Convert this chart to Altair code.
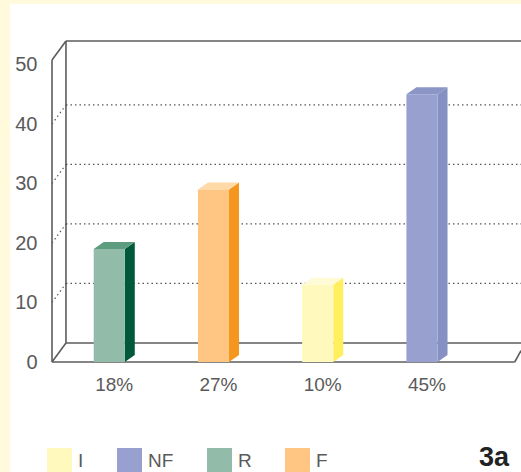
import altair as alt
import pandas as pd

# ---- data ----
categories = ["R", "F", "I", "NF"]
x_labels = ["18%", "27%", "10%", "45%"]
values = [19, 29, 13, 45]          # bar heights as drawn
front_colors = ["#93BBA9", "#FFC683", "#FFF9BE", "#97A0CE"]
side_colors = ["#00593A", "#F5961F", "#FFEF5E", "#8690C2"]
top_colors = ["#5E9C80", "#FFD9A8", "#FFFBD6", "#8B95C6"]
legend_order = ["I", "NF", "R", "F"]
y_ticks = [0, 10, 20, 30, 40, 50]
grid_values = [10, 20, 30, 40]

# ---- geometry (scale units) ----
W, H = 469, 321
PAD_L, PAD_T = 52, 41
X_MIN, X_MAX = -0.549, 3.950
Y_MAX = 53.95
HALF = 0.149
SIDE_DX, SIDE_DY = 0.096, 1.18
FRAME_DX, FRAME_DY = 0.134, 3.2
FRAME_TOP = Y_MAX - FRAME_DY

xs = alt.Scale(domain=[X_MIN, X_MAX], nice=False, zero=False)
ys = alt.Scale(domain=[0, Y_MAX], nice=False, zero=False)
yaxis = alt.Axis(values=y_ticks, domain=False, ticks=False, grid=False,
                 labelPadding=15, labelFontSize=20, labelColor="#5a5a5a",
                 labelFont="Liberation Sans", title=None, zindex=2)

color_of = dict(zip(categories, front_colors))

front = pd.DataFrame({
    "cat": categories,
    "x": [i - HALF for i in range(len(categories))],
    "x2": [i + HALF for i in range(len(categories))],
    "value": values,
})

side_rows, top_rows = [], []
for i, (c, v) in enumerate(zip(categories, values)):
    side_rows.append({"cat": c, "x": i + HALF, "y": v, "y2": 0, "color": side_colors[i]})
    side_rows.append({"cat": c, "x": i + HALF + SIDE_DX, "y": v + SIDE_DY, "y2": SIDE_DY, "color": side_colors[i]})
    top_rows.append({"cat": c, "y": v, "x": i - HALF, "x2": i + HALF, "color": top_colors[i]})
    top_rows.append({"cat": c, "y": v + SIDE_DY, "x": i - HALF + SIDE_DX, "x2": i + HALF + SIDE_DX, "color": top_colors[i]})
side = pd.DataFrame(side_rows)
top = pd.DataFrame(top_rows)

xb = X_MIN + FRAME_DX
solid = pd.DataFrame([
    {"x": X_MIN, "y": 0, "x2": X_MIN, "y2": FRAME_TOP},
    {"x": xb, "y": FRAME_DY, "x2": xb, "y2": Y_MAX},
    {"x": X_MIN, "y": FRAME_TOP, "x2": xb, "y2": Y_MAX},
    {"x": xb, "y": Y_MAX, "x2": X_MAX, "y2": Y_MAX},
    {"x": X_MIN, "y": 0, "x2": xb, "y2": FRAME_DY},
    {"x": xb, "y": FRAME_DY, "x2": X_MAX, "y2": FRAME_DY},
    {"x": X_MIN, "y": 0, "x2": X_MAX - 0.06, "y2": 0},
    {"x": X_MAX - 0.06, "y": 0, "x2": X_MAX, "y2": FRAME_DY * 0.6},
])
dotted_rows = []
for g in grid_values:
    dotted_rows.append({"x": xb, "y": g + FRAME_DY, "x2": X_MAX, "y2": g + FRAME_DY})
    dotted_rows.append({"x": X_MIN, "y": g, "x2": xb, "y2": g + FRAME_DY})
dotted = pd.DataFrame(dotted_rows)

labels_df = pd.DataFrame({
    "lab": x_labels,
    "x": [i + SIDE_DX / 2 for i in range(len(categories))],
})

bg = alt.Chart(pd.DataFrame({"a": [0]})).mark_rect(color="white").encode(
    x=alt.value(10 - PAD_L), x2=alt.value(W + 20),
    y=alt.value(4 - PAD_T), y2=alt.value(H + 200),
)

def rules(df, **kw):
    return alt.Chart(df).mark_rule(**kw).encode(
        x=alt.X("x:Q", scale=xs, axis=None), x2="x2:Q",
        y=alt.Y("y:Q", scale=ys, axis=yaxis), y2="y2:Q",
    )

frame_solid = rules(solid, color="#5c5c5c", strokeWidth=1.6)
frame_dot = rules(dotted, color="#555555", strokeWidth=1.2, strokeDash=[1.5, 3])

side_layer = alt.Chart(side).mark_area(orient="vertical", opacity=1).encode(
    x=alt.X("x:Q", scale=xs, axis=None),
    y=alt.Y("y:Q", scale=ys, axis=yaxis, stack=None),
    y2="y2:Q",
    detail="cat:N",
    color=alt.Color("color:N", scale=None),
)

top_layer = alt.Chart(top).mark_area(orient="horizontal", opacity=1).encode(
    y=alt.Y("y:Q", scale=ys, axis=yaxis),
    x=alt.X("x:Q", scale=xs, axis=None, stack=None),
    x2="x2:Q",
    detail="cat:N",
    color=alt.Color("color:N", scale=None),
)

front_layer = alt.Chart(front).mark_rect().encode(
    x=alt.X("x:Q", scale=xs, axis=None), x2="x2:Q",
    y=alt.Y("value:Q", scale=ys, axis=yaxis), y2=alt.datum(0),
    color=alt.Color(
        "cat:N",
        scale=alt.Scale(domain=legend_order, range=[color_of[c] for c in legend_order]),
        legend=alt.Legend(
            orient="none", legendX=-5, legendY=407, direction="horizontal",
            title=None, symbolType="square", symbolSize=625, symbolStrokeWidth=0,
            symbolOpacity=1, labelFontSize=19, labelColor="#5a5a5a",
            labelFont="Liberation Sans", columnPadding=33, labelOffset=6, padding=0,
        ),
    ),
)

xlab = alt.Chart(labels_df).mark_text(
    fontSize=19, font="Liberation Sans", color="#5a5a5a", baseline="middle"
).encode(
    x=alt.X("x:Q", scale=xs, axis=None), y=alt.value(344), text="lab:N"
)

tag = alt.Chart(pd.DataFrame({"t": ["3a"]})).mark_text(
    fontSize=27, font="Liberation Sans", fontWeight="bold", color="#222222",
    baseline="middle", align="center"
).encode(x=alt.value(494 - PAD_L), y=alt.value(417), text="t:N")

chart = alt.layer(
    bg, frame_dot, frame_solid, side_layer, top_layer, front_layer, xlab, tag
).properties(
    width=W, height=H,
    autosize=alt.AutoSizeParams(type="none"),
    padding={"left": PAD_L, "top": PAD_T, "right": 0, "bottom": 472 - PAD_T - H},
    background="#FFFADB",
).configure_view(stroke=None)

chart.save("out.html", embed_options={"renderer": "svg", "actions": False})
